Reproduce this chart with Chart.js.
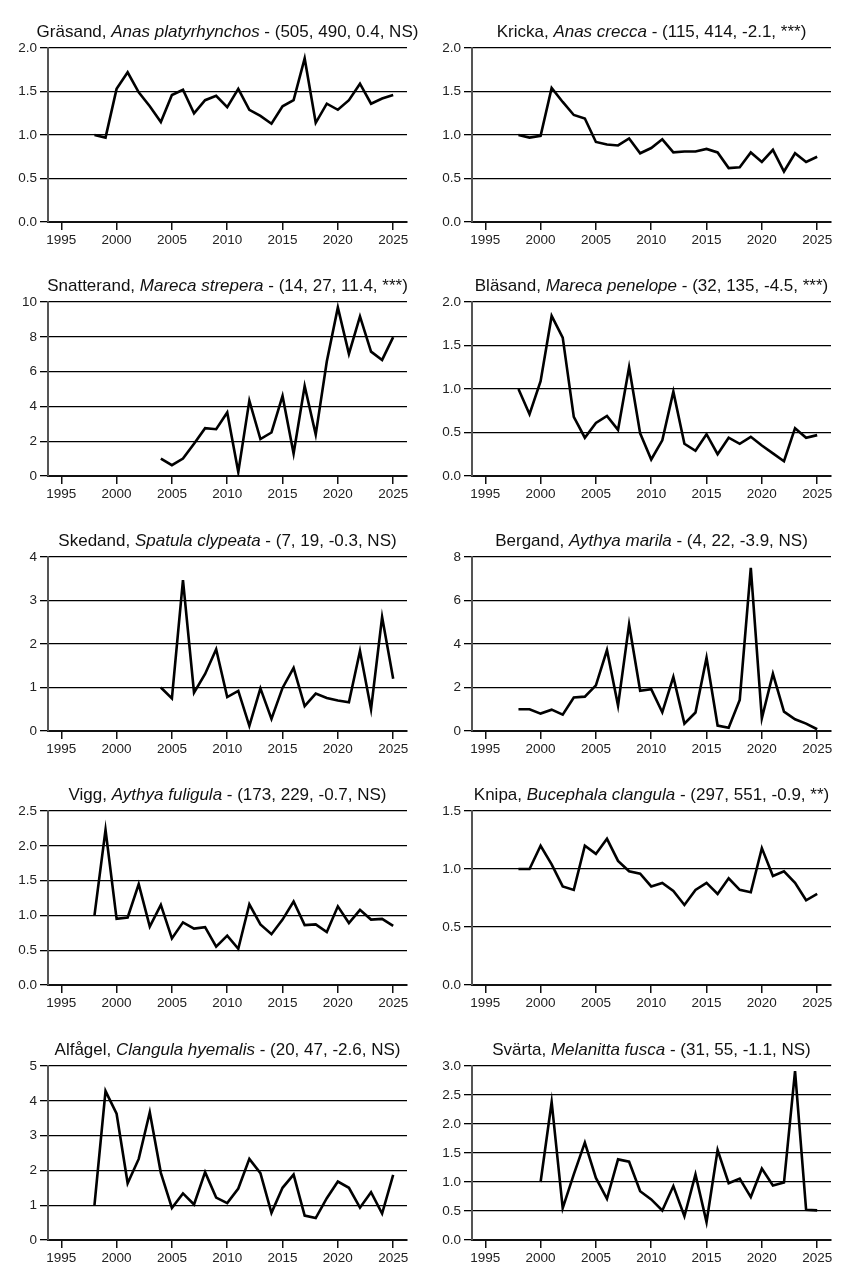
<!DOCTYPE html>
<html>
<head>
<meta charset="utf-8">
<script src="https://cdn.jsdelivr.net/npm/chart.js@4.4.0/dist/chart.umd.min.js"></script>
<style>
  body { margin: 0; background: #fff; width: 848px; height: 1272px; position: relative; overflow: hidden;
         font-family: "Liberation Sans", Arial, sans-serif; }
  .panel { position: absolute; width: 424px; height: 254px; }
  .panel canvas { position: absolute; left: 0; top: 0; }
  .title { position: absolute; left: 0; top: 22px; width: 455px; text-align: center; font-size: 17px;
           line-height: 20px; white-space: nowrap; color: #111; }
</style>
</head>
<body>
<script>
// Years and x tick labels
const years = [1998, 1999, 2000, 2001, 2002, 2003, 2004, 2005, 2006, 2007, 2008, 2009, 2010, 2011,
               2012, 2013, 2014, 2015, 2016, 2017, 2018, 2019, 2020, 2021, 2022, 2023, 2024, 2025];
const xTickLabels = [1995, 2000, 2005, 2010, 2015, 2020, 2025];

// Index values per species (null = no data that year)
const grasand = [1.00, 0.97, 1.53, 1.72, 1.49, 1.33, 1.15, 1.46, 1.52, 1.25, 1.40, 1.45, 1.32, 1.53,
                 1.29, 1.22, 1.13, 1.33, 1.40, 1.88, 1.14, 1.36, 1.29, 1.40, 1.59, 1.36, 1.42, 1.46];
const kricka = [1.00, 0.97, 0.99, 1.54, 1.38, 1.23, 1.19, 0.92, 0.89, 0.88, 0.96, 0.79, 0.85, 0.95,
                0.80, 0.81, 0.81, 0.84, 0.80, 0.62, 0.63, 0.80, 0.69, 0.83, 0.58, 0.79, 0.69, 0.75];
const snatterand = [null, null, null, null, null, null, 1.0, 0.62, 1.0, 1.85, 2.75, 2.69, 3.65, 0.23,
                    4.33, 2.12, 2.5, 4.6, 1.29, 5.17, 2.38, 6.58, 9.69, 7.02, 9.17, 7.15, 6.67, 7.98];
const blasand = [1.00, 0.71, 1.09, 1.84, 1.59, 0.68, 0.44, 0.61, 0.69, 0.53, 1.25, 0.49, 0.19, 0.41,
                 0.97, 0.37, 0.29, 0.48, 0.25, 0.44, 0.37, 0.45, 0.35, 0.26, 0.17, 0.55, 0.44, 0.47];
const skedand = [null, null, null, null, null, null, 1.00, 0.75, 3.47, 0.88, 1.31, 1.88, 0.78, 0.92,
                 0.12, 0.98, 0.28, 0.99, 1.45, 0.57, 0.86, 0.76, 0.70, 0.66, 1.84, 0.50, 2.62, 1.20];
const bergand = [1.00, 1.00, 0.80, 0.98, 0.75, 1.54, 1.58, 2.10, 3.72, 1.17, 4.90, 1.85, 1.92, 0.86,
                 2.49, 0.34, 0.85, 3.37, 0.25, 0.15, 1.43, 7.50, 0.58, 2.63, 0.89, 0.54, 0.34, 0.08];
const vigg = [1.00, 2.23, 0.95, 0.97, 1.45, 0.84, 1.15, 0.67, 0.90, 0.81, 0.83, 0.55, 0.71, 0.52,
              1.16, 0.87, 0.73, 0.94, 1.20, 0.86, 0.87, 0.76, 1.13, 0.89, 1.08, 0.94, 0.95, 0.85];
const knipa = [1.00, 1.00, 1.20, 1.04, 0.85, 0.82, 1.20, 1.13, 1.26, 1.07, 0.98, 0.96, 0.85, 0.88,
               0.81, 0.69, 0.82, 0.88, 0.785, 0.92, 0.82, 0.80, 1.18, 0.94, 0.98, 0.88, 0.73, 0.785];
const alfagel = [1.00, 4.28, 3.63, 1.63, 2.33, 3.67, 1.93, 0.92, 1.34, 1.02, 1.95, 1.22, 1.06, 1.48,
                 2.33, 1.92, 0.78, 1.50, 1.88, 0.70, 0.63, 1.20, 1.68, 1.50, 0.93, 1.375, 0.76, 1.87];
const svarta = [null, null, 1.00, 2.38, 0.55, 1.13, 1.68, 1.07, 0.71, 1.39, 1.35, 0.84, 0.70, 0.51,
                0.93, 0.41, 1.13, 0.31, 1.55, 0.98, 1.06, 0.74, 1.23, 0.94, 0.99, 2.91, 0.52, 0.51];

// Panel titles and y ranges (left column first, row by row)
const panels = [
  { name: 'Gräsand', latin: 'Anas platyrhynchos', stats: '(505, 490, 0.4, NS)', values: grasand, yMax: 2, yStep: 0.5 },
  { name: 'Kricka', latin: 'Anas crecca', stats: '(115, 414, -2.1, ***)', values: kricka, yMax: 2, yStep: 0.5 },
  { name: 'Snatterand', latin: 'Mareca strepera', stats: '(14, 27, 11.4, ***)', values: snatterand, yMax: 10, yStep: 2 },
  { name: 'Bläsand', latin: 'Mareca penelope', stats: '(32, 135, -4.5, ***)', values: blasand, yMax: 2, yStep: 0.5 },
  { name: 'Skedand', latin: 'Spatula clypeata', stats: '(7, 19, -0.3, NS)', values: skedand, yMax: 4, yStep: 1 },
  { name: 'Bergand', latin: 'Aythya marila', stats: '(4, 22, -3.9, NS)', values: bergand, yMax: 8, yStep: 2 },
  { name: 'Vigg', latin: 'Aythya fuligula', stats: '(173, 229, -0.7, NS)', values: vigg, yMax: 2.5, yStep: 0.5 },
  { name: 'Knipa', latin: 'Bucephala clangula', stats: '(297, 551, -0.9, **)', values: knipa, yMax: 1.5, yStep: 0.5 },
  { name: 'Alfågel', latin: 'Clangula hyemalis', stats: '(20, 47, -2.6, NS)', values: alfagel, yMax: 5, yStep: 1 },
  { name: 'Svärta', latin: 'Melanitta fusca', stats: '(31, 55, -1.1, NS)', values: svarta, yMax: 3, yStep: 0.5 }
];

const FONT = '"Liberation Sans", Arial, sans-serif';

panels.forEach((p, i) => {
  const col = i % 2;
  const row = Math.floor(i / 2);

  const panel = document.createElement('div');
  panel.className = 'panel';
  panel.style.left = (col * 424) + 'px';
  panel.style.top = Math.round(row * 254.4) + 'px';

  const canvas = document.createElement('canvas');
  canvas.width = 424;
  canvas.height = 254;
  panel.appendChild(canvas);

  const title = document.createElement('div');
  title.className = 'title';
  title.innerHTML = `${p.name}, <i>${p.latin}</i> - ${p.stats}`;
  panel.appendChild(title);

  document.body.appendChild(panel);

  new Chart(canvas, {
    type: 'line',
    data: {
      datasets: [{
        data: years.map((y, k) => ({ x: y, y: p.values[k] })),
        borderColor: '#000',
        borderWidth: 2.6,
        borderJoinStyle: 'miter',
        pointRadius: 0,
        tension: 0,
        fill: false
      }]
    },
    options: {
      responsive: false,
      animation: false,
      events: [],
      layout: { padding: { top: 48, right: 17, left: 0, bottom: 0 } },
      plugins: { legend: { display: false }, tooltip: { enabled: false }, title: { display: false } },
      scales: {
        x: {
          type: 'linear',
          min: 1993.8,
          max: 2026.25,
          afterBuildTicks: s => { s.ticks = xTickLabels.map(v => ({ value: v })); },
          afterFit: s => { s.height = 32; },
          grid: { drawOnChartArea: false, drawTicks: true, tickLength: 8, color: '#111', lineWidth: 1.5 },
          border: { display: true, color: '#111', width: 2 },
          ticks: { font: { size: 13.5, family: FONT }, color: '#222', padding: 2, maxRotation: 0,
                   autoSkip: false, callback: v => String(v) }
        },
        y: {
          min: 0,
          max: p.yMax,
          afterFit: s => { s.width = 48; },
          grid: { color: '#000', lineWidth: 1.3, tickLength: 8, drawTicks: true },
          border: { display: true, color: '#555', width: 2 },
          ticks: { stepSize: p.yStep, font: { size: 13.5, family: FONT }, color: '#222', padding: 3,
                   callback: v => p.yStep < 1 ? v.toFixed(1) : String(v) }
        }
      }
    }
  });
});
</script>
</body>
</html>
